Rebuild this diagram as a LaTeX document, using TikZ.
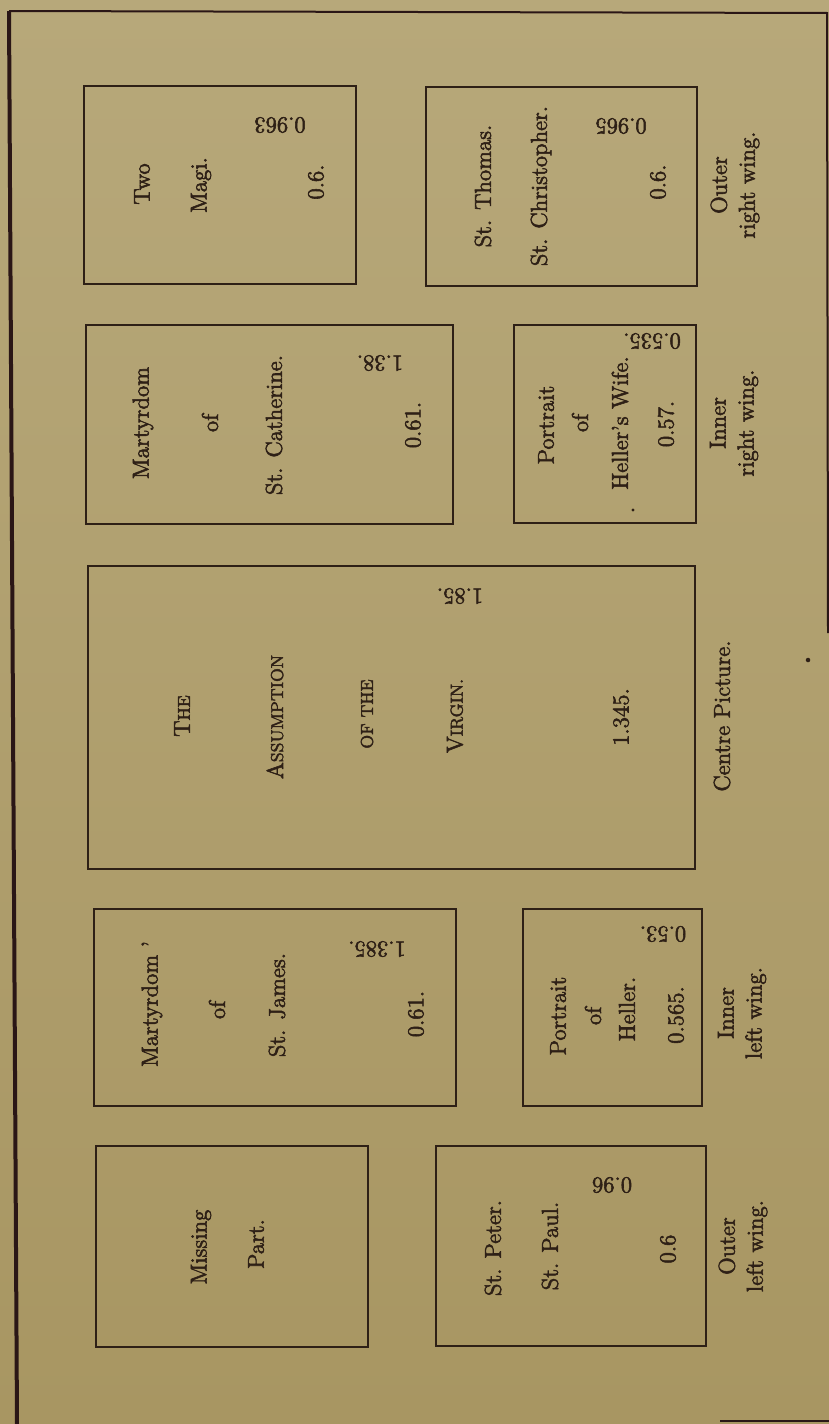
\documentclass[tikz,border=0pt]{standalone}
\usepackage{fontspec}
\setmainfont{Latin Modern Roman}[FakeBold=2.4]
\usepackage{tikz}
\usetikzlibrary{positioning}
\definecolor{PaperLight}{RGB}{183,168,122}
\definecolor{PaperDark}{RGB}{168,150,98}
\definecolor{Ink}{RGB}{46,32,22}
\definecolor{FrameInk}{RGB}{42,22,22}
\newcommand{\scword}[2]{#1{\fontsize{8.6}{10}\selectfont #2}}

\begin{document}
\begin{tikzpicture}[x=0.5pt, y=-0.5pt,
    every node/.style={font=\fontsize{11.5}{14}\selectfont, text=Ink},
    panel/.style={draw=Ink, line width=0.75pt, inner sep=0pt, anchor=north west},
    up/.style={rotate=90, inner sep=1pt},
    flip/.style={rotate=180, inner sep=1pt},
    wing/.style={rotate=90, align=center, inner sep=1pt}]
\useasboundingbox (0,0) rectangle (829,1424);
\shade[top color=PaperLight, bottom color=PaperDark] (0,0) rectangle (829,1424);

% frame
\coordinate (tl) at (9,11);
\coordinate (tr) at (827,13);
\coordinate (rb) at (828,633);
\coordinate (bl) at (17,1424);
\coordinate (bs) at (720,1421);
\coordinate (be) at (829,1421);
\draw[FrameInk, line width=2pt] (tl) -- (bl);
\draw[FrameInk, line width=1pt] (tl) -- (tr) -- (rb);
\draw[FrameInk, line width=0.8pt] (bs) -- (be);

% panels
\node[panel, minimum width=136pt, minimum height=99pt] (magi) at (83,85) {};
\node[panel, minimum width=135.5pt, minimum height=99.5pt] (thomas) at (425,86) {};
\node[panel, minimum width=183.5pt, minimum height=99.5pt] (cath) at (85,324) {};
\node[panel, minimum width=91pt, minimum height=99pt] (hwife) at (513,324) {};
\node[panel, minimum width=303.5pt, minimum height=151.5pt] (assump) at (87,565) {};
\node[panel, minimum width=181pt, minimum height=98.5pt] (james) at (93,908) {};
\node[panel, minimum width=89.5pt, minimum height=98.5pt] (heller) at (522,908) {};
\node[panel, minimum width=136pt, minimum height=100.5pt] (missing) at (95,1145) {};
\node[panel, minimum width=135pt, minimum height=100pt] (peter) at (435,1145) {};

% outer right wing
\node[up] (magiA) at (142,184) {Two};
\node[up] (magiB) at (201,185) {Magi.};
\node[up] (magiW) at (316,182) {0.6.};
\node[flip] (magiH) at (280,125) {0.963};
\node[up] (thomA) at (483,186) {St. Thomas.};
\node[up] (thomB) at (541,186) {St. Christopher.};
\node[up] (thomW) at (658,182) {0.6.};
\node[flip] (thomH) at (621,126) {0.965};
\node[wing] (outerR) at (735,185) {Outer\\right wing.};

% inner right wing
\node[up] (cathA) at (143,423) {Martyrdom};
\node[up] (cathB) at (210,423) {of};
\node[up] (cathC) at (274,425) {St. Catherine.};
\node[up] (cathW) at (413,425) {0.61.};
\node[flip] (cathH) at (380,363) {1.38.};
\node[up] (wifeA) at (546,425) {Portrait};
\node[up] (wifeB) at (580,423) {of};
\node[up] (wifeC) at (620,423) {Heller's Wife.};
\node[up] (wifeW) at (666,424) {0.57.};
\node[flip] (wifeH) at (652,341) {0.535.};
\node[circle, fill=Ink, inner sep=0.6pt] (wifeDot) at (633,510) {};
\node[wing] (innerR) at (734,423) {Inner\\right wing.};

% centre
\node[up] (virA) at (182,716) {\scword{T}{HE}};
\node[up] (virB) at (275,717) {\scword{A}{SSUMPTION}};
\node[up] (virC) at (367,714) {\scword{}{OF THE}};
\node[up] (virD) at (455,716) {\scword{V}{IRGIN.}};
\node[up] (virW) at (621,717) {1.345.};
\node[flip] (virH) at (460,596) {1.85.};
\node[up] (centre) at (722,716) {Centre Picture.};
\node[circle, fill=Ink, inner sep=0.8pt] (speck) at (808,660) {};

% inner left wing
\node[up] (jamA) at (152,1004) {Martyrdom '};
\node[up] (jamB) at (217,1010) {of};
\node[up] (jamC) at (277,1005) {St. James.};
\node[up] (jamW) at (416,1014) {0.61.};
\node[flip] (jamH) at (377,949) {1.385.};
\node[up] (helA) at (558,1016) {Portrait};
\node[up] (helB) at (593,1016) {of};
\node[up] (helC) at (627,1009) {Heller.};
\node[up] (helW) at (676,1015) {0.565.};
\node[flip] (helH) at (663,934) {0.53.};
\node[wing] (innerL) at (742,1013) {Inner\\left wing.};

% outer left wing
\node[up] (misA) at (201,1247) {Missing};
\node[up] (misB) at (256,1244) {Part.};
\node[up] (petA) at (493,1248) {St. Peter.};
\node[up] (petB) at (550,1246) {St. Paul.};
\node[up] (petW) at (668,1249) {0.6};
\node[flip] (petH) at (612,1185) {0.96};
\node[wing] (outerL) at (743,1246) {Outer\\left wing.};
\end{tikzpicture}
\end{document}
